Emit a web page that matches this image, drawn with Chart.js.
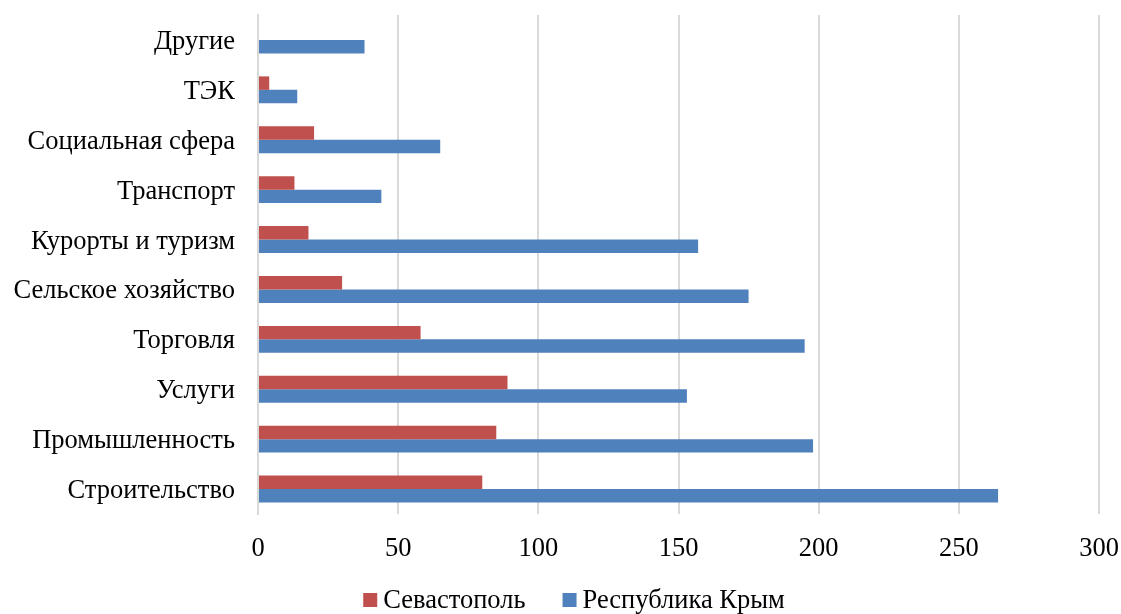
<!DOCTYPE html>
<html>
<head>
<meta charset="utf-8">
<script src="https://cdn.jsdelivr.net/npm/chart.js@4/dist/chart.umd.min.js"></script>
<style>
  html, body { margin: 0; padding: 0; background: #ffffff; }
  #wrap { width: 1121px; height: 614px; position: relative; }
</style>
</head>
<body>
<div id="wrap"><canvas id="chart"></canvas></div>
<script>
// Отрасли (сверху вниз)
const categories = [
  'Другие', 'ТЭК', 'Социальная сфера', 'Транспорт', 'Курорты и туризм',
  'Сельское хозяйство', 'Торговля', 'Услуги', 'Промышленность', 'Строительство'
];
const sevastopol = [0, 4, 20, 13, 18, 30, 58, 89, 85, 80];
const crimea = [38, 14, 65, 44, 157, 175, 195, 153, 198, 264];
const seriesNames = ['Севастополь', 'Республика Крым'];
const seriesColors = ['#C0504D', '#4F81BD'];
const xTicks = [0, 50, 100, 150, 200, 250, 300];

const FONT = "'Liberation Serif', 'Times New Roman', serif";
const FONT_SIZE = 26.5;

// Легенда под диаграммой: квадратный маркер и подпись серии
const bottomLegend = {
  id: 'bottomLegend',
  afterDraw(chart) {
    const ctx = chart.ctx;
    const box = 14, gap = 6, itemGap = 37;
    ctx.save();
    ctx.font = FONT_SIZE + 'px ' + FONT;
    ctx.textBaseline = 'middle';
    ctx.textAlign = 'left';
    const items = chart.data.datasets.map(ds => ({
      text: ds.label, color: ds.backgroundColor, w: ctx.measureText(ds.label).width
    }));
    const total = items.reduce((s, it) => s + box + gap + it.w, 0) + itemGap * (items.length - 1);
    let x = 574 - total / 2;
    const cy = 600;
    items.forEach(it => {
      ctx.fillStyle = it.color;
      ctx.fillRect(x, cy - box / 2, box, box);
      x += box + gap;
      ctx.fillStyle = '#000';
      ctx.fillText(it.text, x, cy + 1);
      x += it.w + itemGap;
    });
    ctx.restore();
  }
};

new Chart(document.getElementById('chart'), {
  type: 'bar',
  data: {
    labels: categories,
    datasets: seriesNames.map((name, i) => ({
      label: name,
      data: i === 0 ? sevastopol : crimea,
      backgroundColor: seriesColors[i],
      borderWidth: 0,
      categoryPercentage: 0.54,
      barPercentage: 1.0
    }))
  },
  options: {
    indexAxis: 'y',
    responsive: true,
    maintainAspectRatio: false,
    animation: false,
    layout: { padding: { top: 15, right: 22, bottom: 0, left: 0 } },
    scales: {
      x: {
        min: xTicks[0],
        max: xTicks[xTicks.length - 1],
        afterBuildTicks: (scale) => { scale.ticks = xTicks.map(v => ({ value: v })); },
        grid: { color: '#d9d9d9', lineWidth: 2, drawTicks: false },
        border: { display: false },
        ticks: { color: '#000', font: { family: FONT, size: FONT_SIZE }, padding: 19, maxRotation: 0 },
        afterFit: (scale) => {
          scale.height = 100;
          scale.paddingLeft = 0;
          scale.paddingRight = 0;
        }
      },
      y: {
        grid: { display: false, drawTicks: false },
        border: { display: true, color: '#d9d9d9', width: 2 },
        ticks: { color: '#000', font: { family: FONT, size: FONT_SIZE }, padding: 23, labelOffset: 2 },
        afterFit: (scale) => {
          scale.width = 258;
          scale.paddingTop = 0;
          scale.paddingBottom = 0;
        }
      }
    },
    plugins: {
      legend: { display: false },
      tooltip: { enabled: false }
    }
  },
  plugins: [bottomLegend]
});
</script>
</body>
</html>
